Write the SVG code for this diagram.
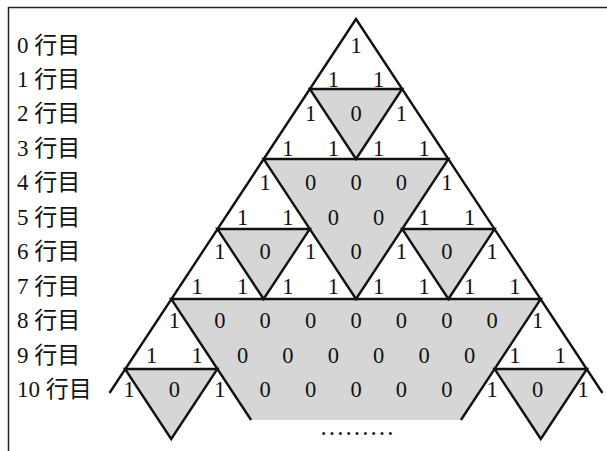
<svg xmlns="http://www.w3.org/2000/svg" width="607" height="451" viewBox="0 0 607 451">
<style>
.frame{stroke:#222;stroke-width:1.5;fill:none}
.shade{fill:#d6d6d6;stroke:none}
.ln{stroke:#111;stroke-width:2.4;fill:none;stroke-linejoin:miter;stroke-linecap:butt}
.num{font-family:"Liberation Serif","Noto Serif",serif;font-size:22.5px;fill:#111;text-anchor:middle}
.lab{font-family:"Liberation Serif","Noto Sans CJK JP",serif;font-size:23px;fill:#111}
</style>
<rect width="607" height="451" fill="#fff"/>
<g id="frame">
<path class="frame" d="M8.5,451 V7.5 H607"/>
</g>
<g id="shading">
<polygon class="shade" points="309.8,89 402.2,89 356,159"/>
<polygon class="shade" points="263.6,159 448.4,159 356,299"/>
<polygon class="shade" points="217.4,229 309.8,229 263.6,299"/>
<polygon class="shade" points="402.2,229 494.6,229 448.4,299"/>
<polygon class="shade" points="171.2,299 540.8,299 460.9,420 251.1,420"/>
<polygon class="shade" points="125,369 217.4,369 171.2,439"/>
<polygon class="shade" points="494.6,369 587,369 540.8,439"/>
</g>
<g id="connectors">
<path class="ln" d="M109.5,393 L356,19 L602.5,393"/>
<polygon class="ln" points="309.8,89 402.2,89 356,159"/>
<polygon class="ln" points="263.6,159 448.4,159 356,299"/>
<polygon class="ln" points="217.4,229 309.8,229 263.6,299"/>
<polygon class="ln" points="402.2,229 494.6,229 448.4,299"/>
<path class="ln" d="M251.1,420 L171.2,299 H540.8 L460.9,420"/>
<polygon class="ln" points="125,369 217.4,369 171.2,439"/>
<polygon class="ln" points="494.6,369 587,369 540.8,439"/>
</g>
<g id="labels">
<text class="lab" x="17" y="52.5">0 行目</text>
<text class="lab" x="17" y="87">1 行目</text>
<text class="lab" x="17" y="121.4">2 行目</text>
<text class="lab" x="17" y="155.9">3 行目</text>
<text class="lab" x="17" y="190.3">4 行目</text>
<text class="lab" x="17" y="224.8">5 行目</text>
<text class="lab" x="17" y="259.2">6 行目</text>
<text class="lab" x="17" y="293.7">7 行目</text>
<text class="lab" x="17" y="328.1">8 行目</text>
<text class="lab" x="17" y="362.6">9 行目</text>
<text class="lab" x="17" y="397">10 行目</text>
</g>
<g id="row0"><text class="num" x="356" y="52.5">1</text></g>
<g id="row1"><text class="num" x="333.3" y="87">1</text><text class="num" x="378.7" y="87">1</text></g>
<g id="row2"><text class="num" x="310.6" y="121.4">1</text><text class="num" x="356" y="121.4">0</text><text class="num" x="401.4" y="121.4">1</text></g>
<g id="row3"><text class="num" x="287.9" y="155.9">1</text><text class="num" x="333.3" y="155.9">1</text><text class="num" x="378.7" y="155.9">1</text><text class="num" x="424.1" y="155.9">1</text></g>
<g id="row4"><text class="num" x="265.2" y="190.3">1</text><text class="num" x="310.6" y="190.3">0</text><text class="num" x="356" y="190.3">0</text><text class="num" x="401.4" y="190.3">0</text><text class="num" x="446.8" y="190.3">1</text></g>
<g id="row5"><text class="num" x="242.5" y="224.8">1</text><text class="num" x="287.9" y="224.8">1</text><text class="num" x="333.3" y="224.8">0</text><text class="num" x="378.7" y="224.8">0</text><text class="num" x="424.1" y="224.8">1</text><text class="num" x="469.5" y="224.8">1</text></g>
<g id="row6"><text class="num" x="219.8" y="259.2">1</text><text class="num" x="265.2" y="259.2">0</text><text class="num" x="310.6" y="259.2">1</text><text class="num" x="356" y="259.2">0</text><text class="num" x="401.4" y="259.2">1</text><text class="num" x="446.8" y="259.2">0</text><text class="num" x="492.2" y="259.2">1</text></g>
<g id="row7"><text class="num" x="197.1" y="293.7">1</text><text class="num" x="242.5" y="293.7">1</text><text class="num" x="287.9" y="293.7">1</text><text class="num" x="333.3" y="293.7">1</text><text class="num" x="378.7" y="293.7">1</text><text class="num" x="424.1" y="293.7">1</text><text class="num" x="469.5" y="293.7">1</text><text class="num" x="514.9" y="293.7">1</text></g>
<g id="row8"><text class="num" x="174.4" y="328.1">1</text><text class="num" x="219.8" y="328.1">0</text><text class="num" x="265.2" y="328.1">0</text><text class="num" x="310.6" y="328.1">0</text><text class="num" x="356" y="328.1">0</text><text class="num" x="401.4" y="328.1">0</text><text class="num" x="446.8" y="328.1">0</text><text class="num" x="492.2" y="328.1">0</text><text class="num" x="537.6" y="328.1">1</text></g>
<g id="row9"><text class="num" x="151.7" y="362.6">1</text><text class="num" x="197.1" y="362.6">1</text><text class="num" x="242.5" y="362.6">0</text><text class="num" x="287.9" y="362.6">0</text><text class="num" x="333.3" y="362.6">0</text><text class="num" x="378.7" y="362.6">0</text><text class="num" x="424.1" y="362.6">0</text><text class="num" x="469.5" y="362.6">0</text><text class="num" x="514.9" y="362.6">1</text><text class="num" x="560.3" y="362.6">1</text></g>
<g id="row10"><text class="num" x="129" y="397">1</text><text class="num" x="174.4" y="397">0</text><text class="num" x="219.8" y="397">1</text><text class="num" x="265.2" y="397">0</text><text class="num" x="310.6" y="397">0</text><text class="num" x="356" y="397">0</text><text class="num" x="401.4" y="397">0</text><text class="num" x="446.8" y="397">0</text><text class="num" x="492.2" y="397">1</text><text class="num" x="537.6" y="397">0</text><text class="num" x="583" y="397">1</text></g>
<g id="ellipsis"><text class="num" x="357" y="435" style="font-size:25px">………</text></g>
</svg>
